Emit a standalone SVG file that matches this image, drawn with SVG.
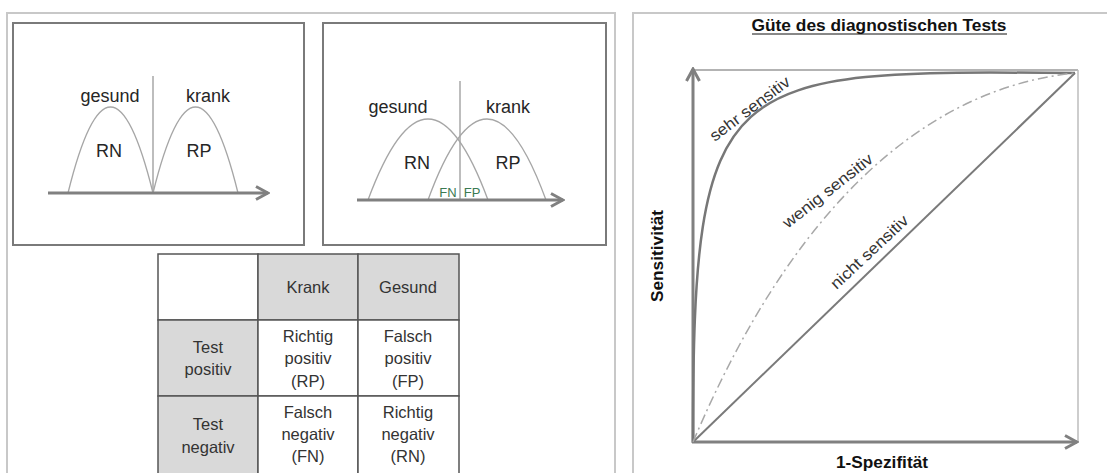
<svg xmlns="http://www.w3.org/2000/svg" width="1107" height="473" viewBox="0 0 1107 473">
<style>
.panel{fill:#fff;stroke:#c8c8c8;stroke-width:2}
.box{fill:#fff;stroke:#7a7a7a;stroke-width:2}
.axis{fill:none;stroke:#808080;stroke-width:3}
.bell{fill:none;stroke:#a6a6a6;stroke-width:1.3}
.cut{fill:none;stroke:#9a9a9a;stroke-width:1.3}
.lbl{font-family:"Liberation Sans",Arial,sans-serif;font-size:18px;fill:#262626;text-anchor:middle}
.small{font-family:"Liberation Sans",Arial,sans-serif;font-size:13px;fill:#3b7a52;text-anchor:middle}
.cell{stroke:#555;stroke-width:1.5}
.hd{fill:#d9d9d9}
.wt{fill:#fff}
.tt{font-family:"Liberation Sans",Arial,sans-serif;font-size:16.5px;fill:#333;text-anchor:middle}
.bold{font-family:"Liberation Sans",Arial,sans-serif;font-weight:bold;font-size:16.5px;fill:#111;text-anchor:middle}
.curvelbl{font-family:"Liberation Sans",Arial,sans-serif;font-size:16px;fill:#333;text-anchor:middle}
</style>
<defs>
<marker id="chev" viewBox="0 0 16 16" markerWidth="16" markerHeight="16" refX="14" refY="8" orient="auto" markerUnits="userSpaceOnUse">
<path d="M2,1.5 L14,8 L2,14.5" fill="none" stroke="#808080" stroke-width="3"/>
</marker>
</defs>
<rect width="1107" height="473" fill="#fff"/>

<g id="panel-left">
<rect class="panel" x="7" y="13" width="608" height="470"/>
</g>
<g id="panel-right">
<rect class="panel" x="633" y="13" width="490" height="470"/>
</g>

<g id="chart-separated">
<rect class="box" x="13" y="23" width="291" height="222"/>
<line class="cut" x1="153" y1="76" x2="153" y2="193"/>
<path class="bell" d="M68,193 Q110.5,21 153,193"/>
<path class="bell" d="M153,193 Q195.5,21 238,193"/>
<text class="lbl" x="110" y="102">gesund</text>
<text class="lbl" x="208" y="102">krank</text>
<text class="lbl" x="109" y="157">RN</text>
<text class="lbl" x="199" y="157">RP</text>
</g>

<g id="chart-overlap">
<rect class="box" x="323" y="23" width="283" height="222"/>
<line class="cut" x1="460" y1="81" x2="460" y2="200"/>
<path class="bell" d="M368,200 Q428,38 488,200"/>
<path class="bell" d="M428,200 Q487,38 546,200"/>
<text class="lbl" x="398" y="113">gesund</text>
<text class="lbl" x="508" y="113">krank</text>
<text class="lbl" x="417" y="169">RN</text>
<text class="lbl" x="508" y="169">RP</text>
<text class="small" x="448" y="197">FN</text>
<text class="small" x="472" y="197">FP</text>
</g>

<g id="table">
<rect class="cell wt" x="158" y="254" width="100" height="66"/>
<rect class="cell hd" x="258" y="254" width="100" height="66"/>
<rect class="cell hd" x="358" y="254" width="101" height="66"/>
<rect class="cell hd" x="158" y="320" width="100" height="76"/>
<rect class="cell wt" x="258" y="320" width="100" height="76"/>
<rect class="cell wt" x="358" y="320" width="101" height="76"/>
<rect class="cell hd" x="158" y="396" width="100" height="80"/>
<rect class="cell wt" x="258" y="396" width="100" height="80"/>
<rect class="cell wt" x="358" y="396" width="101" height="80"/>
<text class="tt" x="308" y="293">Krank</text>
<text class="tt" x="408" y="293">Gesund</text>
<text class="tt" x="208" y="353">Test</text>
<text class="tt" x="208" y="375">positiv</text>
<text class="tt" x="308" y="342">Richtig</text>
<text class="tt" x="308" y="364">positiv</text>
<text class="tt" x="308" y="387">(RP)</text>
<text class="tt" x="408" y="342">Falsch</text>
<text class="tt" x="408" y="364">positiv</text>
<text class="tt" x="408" y="387">(FP)</text>
<text class="tt" x="208" y="430">Test</text>
<text class="tt" x="208" y="453">negativ</text>
<text class="tt" x="308" y="418">Falsch</text>
<text class="tt" x="308" y="440">negativ</text>
<text class="tt" x="308" y="462">(FN)</text>
<text class="tt" x="408" y="418">Richtig</text>
<text class="tt" x="408" y="440">negativ</text>
<text class="tt" x="408" y="462">(RN)</text>
</g>

<g id="roc-chart">
<text class="bold" x="879" y="31" textLength="255" lengthAdjust="spacingAndGlyphs">Güte des diagnostischen Tests</text>
<line x1="752" y1="34" x2="1007" y2="34" stroke="#111" stroke-width="1"/>
<line x1="693" y1="70" x2="1078" y2="70" stroke="#9a9a9a" stroke-width="1.5"/>
<line x1="1078" y1="70" x2="1078" y2="442" stroke="#bdbdbd" stroke-width="1.5"/>
<text class="bold" transform="translate(663,256) rotate(-90)" x="0" y="0" textLength="92" lengthAdjust="spacingAndGlyphs">Sensitivität</text>
<text class="bold" x="882" y="468" textLength="92" lengthAdjust="spacingAndGlyphs">1-Spezifität</text>
</g>

<g id="connectors">
<line class="axis" x1="48" y1="193" x2="268" y2="193" marker-end="url(#chev)"/>
<line class="axis" x1="357" y1="200" x2="563" y2="200" marker-end="url(#chev)"/>
<line class="axis" x1="693" y1="443" x2="693" y2="69" marker-end="url(#chev)"/>
<line class="axis" x1="692" y1="442" x2="1077" y2="442" marker-end="url(#chev)"/>
<path d="M693,442 L1075,73" fill="none" stroke="#7a7a7a" stroke-width="2"/>
<path d="M693,442 C693,70 720,70 1075,73" fill="none" stroke="#777" stroke-width="2.5"/>
<path d="M693,442 C745,320 860,95 1075,73" fill="none" stroke="#a8a8a8" stroke-width="1.5" stroke-dasharray="10,4,2,4"/>
</g>

<g id="curve-labels">
<text class="curvelbl" transform="translate(753,113) rotate(-37)" textLength="96" lengthAdjust="spacingAndGlyphs">sehr sensitiv</text>
<text class="curvelbl" transform="translate(831,195) rotate(-38)" textLength="110" lengthAdjust="spacingAndGlyphs">wenig sensitiv</text>
<text class="curvelbl" transform="translate(873,256) rotate(-43)" textLength="100" lengthAdjust="spacingAndGlyphs">nicht sensitiv</text>
</g>
</svg>
